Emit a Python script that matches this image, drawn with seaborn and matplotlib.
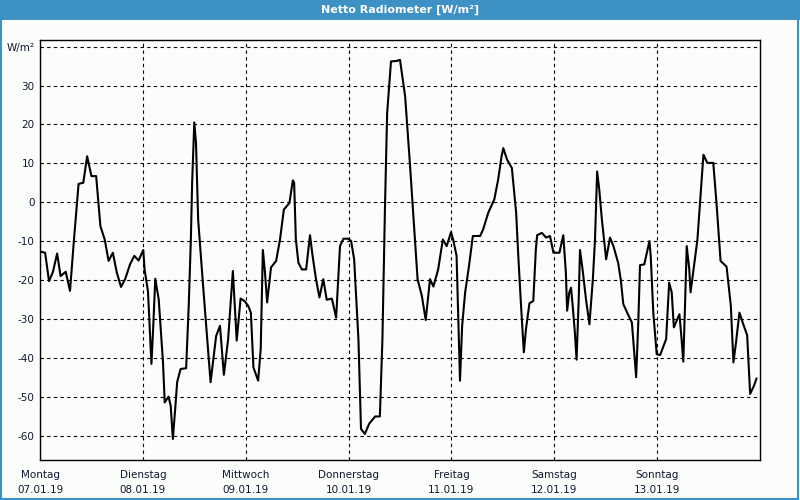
import matplotlib
matplotlib.use("Agg")
import matplotlib.pyplot as plt
from matplotlib.patches import Rectangle
import seaborn as sns
import pandas as pd

# ---- data: hours since Monday 00:00, net radiation W/m² ----
hours = [0, 1.2, 2.1, 3.0, 4.0, 4.8, 6.0, 7.0, 7.9, 9.0, 10.1, 11.0, 12.0, 13.1, 14.1,
         15.1, 16.0, 17.0, 17.9, 18.9, 19.9, 21.0, 22.0, 23.0, 24.1, 24.4, 25.2, 26.0,
         26.4, 26.9, 27.7, 28.7, 29.1, 30.0, 30.5, 31.0, 31.6, 32.0, 32.8, 34.1, 34.7,
         35.2, 35.5, 36.0, 36.4, 36.9, 38.0, 38.9, 39.8, 41.1, 42.0, 42.9, 43.9, 45.0,
         45.9, 46.8, 47.7, 48.6, 49.2, 49.8, 50.9, 51.5, 52.0, 52.5, 53.0, 53.9, 55.1,
         56.0, 56.9, 58.2, 59.0, 59.3, 59.7, 60.3, 61.1, 62.1, 63.0, 63.6, 64.4, 65.2,
         66.1, 66.9, 68.1, 69.1, 70.0, 70.8, 71.9, 72.6, 73.3, 74.3, 74.9, 75.8, 76.8,
         78.2, 79.3, 79.9, 80.5, 81.0, 81.9, 83.2, 84.0, 85.2, 86.3, 87.5, 88.1, 89.1,
         90.0, 91.0, 91.8, 92.9, 94.0, 94.9, 95.9, 96.4, 97.2, 97.8, 98.0, 98.5, 99.2,
         100.1, 101.0, 102.7, 103.4, 104.6, 106.0, 106.9, 107.7, 108.1, 109.0, 110.1,
         111.1, 111.6, 112.2, 112.9, 113.4, 114.2, 115.1, 115.7, 116.0, 117.1, 118.1,
         119.0, 119.8, 121.2, 122.1, 122.7, 123.0, 123.5, 123.9, 124.3, 124.8, 125.2,
         125.7, 126.0, 126.6, 127.4, 128.2, 129.0, 129.5, 130.0, 130.5, 131.1, 132.1,
         133.0, 133.8, 134.9, 135.5, 136.1, 137.0, 138.1, 138.6, 139.1, 139.6, 140.0,
         141.0, 141.6, 142.2, 142.5, 143.1, 143.9, 144.7, 146.1, 146.8, 147.4, 147.9,
         148.7, 149.2, 149.7, 150.1, 150.5, 150.9, 151.5, 151.8, 152.4, 153.4, 154.0,
         154.8, 155.7, 157.1, 157.9, 158.8, 160.2, 161.2, 161.8, 162.4, 163.2, 164.1,
         165.0, 165.7, 166.6, 167.2]
values = [-12.7, -13.0, -20.3, -18.0, -13.2, -19.0, -17.9, -22.8, -10.0, 4.7, 5.0, 11.8,
          6.7, 6.7, -6.2, -9.6, -15.1, -13.0, -18.0, -21.8, -19.7, -16.0, -13.8, -15.0,
          -12.3, -17.3, -23.0, -41.6, -32.6, -19.7, -25.0, -41.2, -51.5, -50.0, -52.4,
          -60.9, -52.4, -46.3, -42.9, -42.7, -26.7, -9.6, 5.0, 20.5, 15.2, -4.4, -20.7,
          -33.5, -46.3, -34.4, -31.8, -44.4, -35.2, -17.7, -35.6, -24.8, -25.4, -26.7,
          -28.4, -42.5, -45.9, -37.8, -12.3, -18.1, -25.8, -16.8, -15.1, -9.6, -1.9,
          -0.2, 5.6, 5.0, -9.6, -15.6, -17.3, -17.3, -8.5, -13.8, -19.8, -24.5, -19.8,
          -25.1, -24.8, -29.7, -11.3, -9.4, -9.4, -10.0, -14.7, -35.2, -58.3, -59.6,
          -57.0, -55.1, -55.1, -35.2, -1.0, 22.9, 36.2, 36.3, 36.6, 27.2, 10.1, -9.6,
          -19.8, -24.1, -30.3, -19.8, -21.7, -17.3, -9.6, -11.3, -7.7, -9.6, -13.8,
          -38.6, -45.9, -31.8, -23.2, -16.4, -8.7, -8.7, -7.0, -2.7, 0.7, 5.8, 11.8,
          13.9, 10.9, 8.8, -2.7, -13.8, -25.8, -38.6, -32.6, -26.0, -25.4, -12.1, -8.5,
          -7.9, -9.1, -8.7, -13.0, -13.0, -8.5, -18.1, -27.9, -23.2, -22.0, -26.7, -33.5,
          -40.5, -25.0, -12.3, -17.3, -25.0, -31.4, -19.8, -9.6, 7.9, 3.2, -4.4, -14.7,
          -9.1, -11.3, -15.6, -19.8, -26.2, -28.4, -30.9, -37.8, -45.0, -30.9, -16.2,
          -16.0, -13.0, -10.0, -13.8, -28.4, -39.1, -39.3, -35.2, -20.7, -23.2, -32.2,
          -30.1, -28.8, -35.2, -41.0, -26.7, -11.3, -17.3, -23.2, -18.1, -9.6, -0.2,
          12.2, 10.1, 10.1, -1.0, -15.1, -16.6, -26.7, -41.2, -36.1, -28.4, -31.4,
          -34.2, -49.3, -47.2, -45.3]

day_names = ["Montag", "Dienstag", "Mittwoch", "Donnerstag", "Freitag", "Samstag", "Sonntag"]
day_dates = ["07.01.19", "08.01.19", "09.01.19", "10.01.19", "11.01.19", "12.01.19", "13.01.19"]
y_ticks = [-60, -50, -40, -30, -20, -10, 0, 10, 20, 30, 40]
y_labels = ["-60", "-50", "-40", "-30", "-20", "-10", "0", "10", "20", "30", "W/m²"]
title = "Netto Radiometer [W/m²]"

df = pd.DataFrame({"hour": hours, "value": values})

sns.set_style("white")
plt.rcParams["font.family"] = ["DejaVu Sans"]

bg = "#fbfdfb"
blue = "#3d91c4"
txt = "#151530"

fig = plt.figure(figsize=(8, 5), dpi=100, facecolor=bg)
# title bar and border
fig.patches.append(Rectangle((0, 0.96), 1, 0.04, transform=fig.transFigure,
                             facecolor=blue, edgecolor="none", zorder=0))
fig.patches.append(Rectangle((0.001, 0.002), 0.997, 0.996, transform=fig.transFigure,
                             facecolor="none", edgecolor=blue, linewidth=1.5, zorder=1))
fig.text(0.5, 0.98, title, color="white", ha="center", va="center",
         fontsize=8, fontweight="bold")

ax = fig.add_axes([0.05, 0.08, 0.90, 0.84])
ax.set_facecolor(bg)
sns.lineplot(data=df, x="hour", y="value", color="black", linewidth=1.5, ax=ax)

ax.set_xlim(0, 168)
ax.set_ylim(-66.3, 41.7)
ax.set_xticks([24 * i for i in range(7)])
ax.set_xticklabels([f"{n}\n{d}" for n, d in zip(day_names, day_dates)],
                   fontsize=7.5, color=txt, linespacing=1.6)
ax.set_yticks(y_ticks)
ax.set_yticklabels(y_labels, fontsize=7.5, color=txt)
ax.tick_params(axis="y", length=0, pad=4)
ax.tick_params(axis="x", length=3, width=0.8, color="black", pad=4.5, direction="out")
ax.grid(True, color="black", linestyle=(0, (3, 3)), linewidth=0.8)
ax.set_xlabel("")
ax.set_ylabel("")
for s in ax.spines.values():
    s.set_visible(True)
    s.set_color("black")
    s.set_linewidth(1.0)

fig.savefig("out.png", dpi=100, facecolor=bg)
